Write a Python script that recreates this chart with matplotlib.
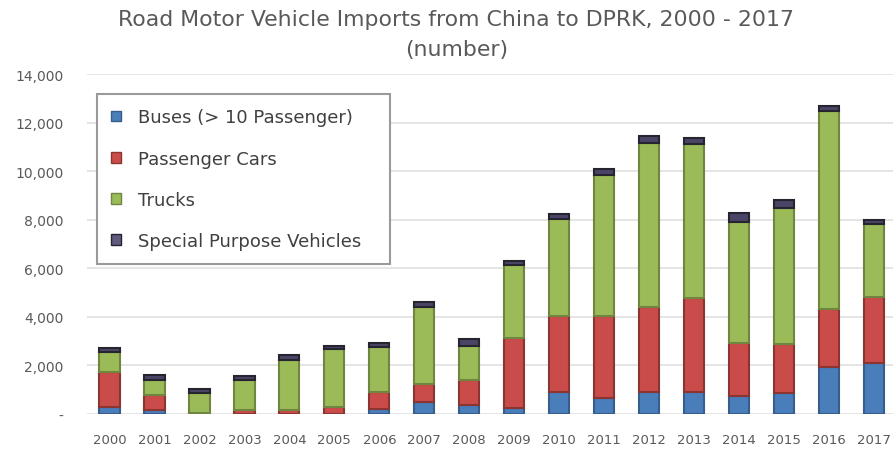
import numpy as np
import matplotlib
matplotlib.use('Agg')
import matplotlib.pyplot as plt
from matplotlib.patches import Patch
from matplotlib.ticker import FuncFormatter

# imports by type, units per year
years = [str(y) for y in range(2000, 2018)]
buses = [300, 150, 0, 0, 0, 0, 200, 480, 370, 250, 900, 650, 900, 900, 760, 880, 1930, 2100]
cars = [1450, 630, 30, 150, 160, 300, 700, 760, 1010, 2880, 3150, 3400, 3500, 3880, 2170, 2010, 2380, 2720]
trucks = [800, 640, 835, 1250, 2050, 2360, 1850, 3180, 1440, 3000, 4000, 5800, 6750, 6330, 4960, 5580, 8160, 3010]
special = [160, 190, 165, 180, 200, 140, 180, 200, 250, 180, 200, 250, 300, 250, 370, 340, 230, 160]

names = ['Buses (> 10 Passenger)', 'Passenger Cars', 'Trucks', 'Special Purpose Vehicles']
fills = ['#4A7EBB', '#C94C4A', '#9BBB59', '#4A4566']
edges = ['#375D8C', '#8A3532', '#6F8540', '#26242E']

fig = plt.figure(figsize=(8.93, 4.52), dpi=100)
ax = fig.add_axes([87/893, 1-415/452, (896.5-87)/893, 340/452])

x = np.arange(len(years))
bottom = np.zeros(len(years))
for vals, fc, ec in zip([buses, cars, trucks, special], fills, edges):
	ax.bar(x, vals, 0.45, bottom=bottom, color=fc, edgecolor=ec, linewidth=1.5, zorder=3)
	bottom += np.array(vals)

ax.set_xlim(-0.5, 17.5)
ax.set_ylim(0, 14000)
ax.set_yticks(range(0, 14001, 2000))
ax.yaxis.set_major_formatter(FuncFormatter(lambda v, p: '-' if v == 0 else '{:,.0f}'.format(v)))
ax.set_xticks(x)
ax.set_xticklabels(years)
ax.tick_params(length=0, labelsize=10, colors='#595959')
ax.tick_params(axis='y', pad=17)
ax.tick_params(axis='x', pad=14, labelsize=9.5)
ax.grid(axis='y', color='#E0E0E0', linewidth=1.2, zorder=0)
for s in ax.spines.values():
	s.set_visible(False)

fig.text(0.511, 0.955, 'Road Motor Vehicle Imports from China to DPRK, 2000 - 2017',
	ha='center', va='center', fontsize=15.8, color='#595959')
fig.text(0.511, 0.89, '(number)', ha='center', va='center', fontsize=15.8, color='#595959')

# legend box in the upper left of the plot
legend_fills = ['#4A7EBB', '#C94C4A', '#9BBB59', '#5E5A80']
handles = [Patch(facecolor=fc, edgecolor=ec, linewidth=1) for fc, ec in zip(legend_fills, edges)]
leg = fig.legend(handles, names, loc='upper left', mode='expand',
	bbox_to_anchor=(97/893, 1-95/452, 293/893, 0), borderaxespad=0,
	fontsize=13, labelspacing=1.28, borderpad=0.8, handlelength=0.55, handleheight=0.55,
	handletextpad=0.92, fancybox=False, framealpha=1, labelcolor='#404040')
leg.get_frame().set_edgecolor('#9A9A9A')
leg.get_frame().set_linewidth(1.5)

fig.savefig('out.png', dpi=100)
